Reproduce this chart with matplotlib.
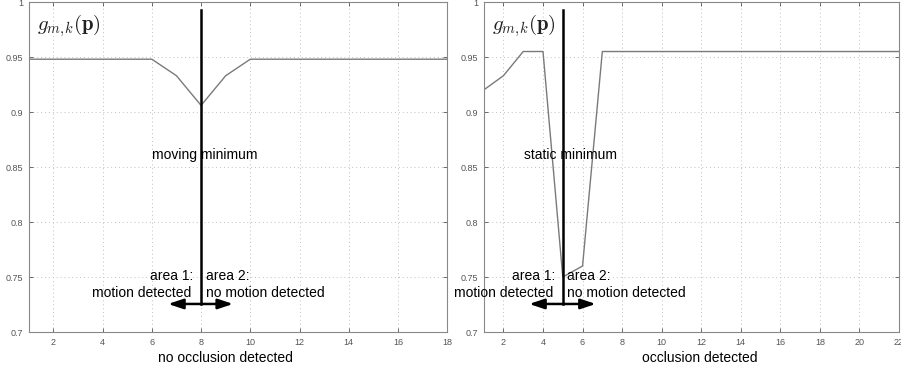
import matplotlib
matplotlib.use("Agg")
import matplotlib.pyplot as plt
import numpy as np

plt.rcParams['font.family'] = ['Liberation Sans', 'DejaVu Sans']
plt.rcParams['mathtext.fontset'] = 'cm'

# left panel: no occlusion
x_left = np.arange(1, 19)
g_left = [0.948, 0.948, 0.948, 0.948, 0.948, 0.948, 0.933, 0.906, 0.933,
          0.948, 0.948, 0.948, 0.948, 0.948, 0.948, 0.948, 0.948, 0.948]

# right panel: occlusion
x_right = np.arange(1, 23)
g_right = [0.920, 0.933, 0.955, 0.955, 0.750, 0.760, 0.955, 0.955, 0.955,
           0.955, 0.955, 0.955, 0.955, 0.955, 0.955, 0.955, 0.955, 0.955,
           0.955, 0.955, 0.955, 0.955]

yticks = [0.7, 0.75, 0.8, 0.85, 0.9, 0.95, 1]
ytick_labels = ["0.7", "0.75", "0.8", "0.85", "0.9", "0.95", "1"]

panels = [
    dict(x=x_left, g=g_left, xmax=18, xticks=range(2, 19, 2), mark=8,
         arrow=(6.66, 9.3), title_txt="moving minimum", title_x=6.0,
         xlabel="no occlusion detected", xlabel_pos=0.47,
         a1_x=7.68, a2_x=8.2,
         pos=[0.0319, 0.1075, 0.4645, 0.8871]),
    dict(x=x_right, g=g_right, xmax=22, xticks=range(2, 23, 2), mark=5,
         arrow=(3.3, 6.67), title_txt="static minimum", title_x=3.04,
         xlabel="occlusion detected", xlabel_pos=0.52,
         a1_x=4.62, a2_x=5.22,
         pos=[0.5368, 0.1075, 0.4610, 0.8871]),
]

fig = plt.figure(figsize=(9.01, 3.72), dpi=100)

for p in panels:
    ax = fig.add_axes(p["pos"])
    ax.plot(p["x"], p["g"], color="#7a7a7a", lw=1.0)
    ax.set_xlim(1, p["xmax"])
    ax.set_ylim(0.7, 1.0)
    ax.set_xticks(list(p["xticks"]))
    ax.set_yticks(yticks)
    ax.set_yticklabels(ytick_labels)
    ax.grid(True, linestyle=(0, (1, 3)), color="#c0c0c0", lw=0.7)
    ax.tick_params(direction="in", top=True, right=True, labelsize=6.5,
                   colors="#555555", length=3, width=0.6, pad=4)
    for s in ax.spines.values():
        s.set_color("#888888")
        s.set_linewidth(0.8)

    m = p["mark"]
    ax.plot([m, m], [0.7255, 0.993], color="black", lw=1.8)
    for tip in p["arrow"]:
        ax.annotate("", xy=(tip, 0.7255), xytext=(m, 0.7255),
                    arrowprops=dict(arrowstyle="-|>,head_length=0.9,head_width=0.3",
                                    color="black", lw=1.8, shrinkA=0, shrinkB=0))

    ax.text(p["title_x"], 0.861, p["title_txt"], fontsize=10, va="center", ha="left")
    ax.text(p["a1_x"], 0.7505, "area 1:", fontsize=10, va="center", ha="right")
    ax.text(p["a1_x"] - 0.08, 0.7355, "motion detected", fontsize=10, va="center", ha="right")
    ax.text(p["a2_x"], 0.7505, "area 2:", fontsize=10, va="center", ha="left")
    ax.text(p["a2_x"], 0.7355, "no motion detected", fontsize=10, va="center", ha="left")

    ax.text(0.02, 0.93, r"$g_{m,\!k}(\mathbf{p})$", transform=ax.transAxes,
            fontsize=15, va="center", ha="left", color="#222222")
    ax.text(p["xlabel_pos"], -0.08, p["xlabel"], transform=ax.transAxes,
            fontsize=10, va="center", ha="center")

fig.savefig("out.png", dpi=100)
